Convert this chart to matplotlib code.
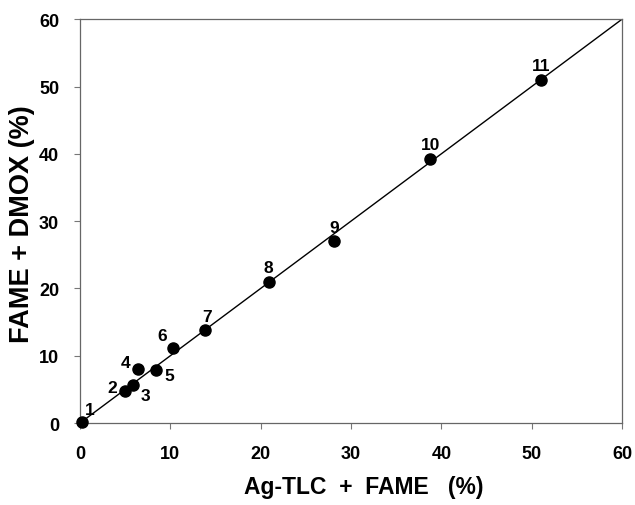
import matplotlib
matplotlib.use('Agg')
import matplotlib.pyplot as plt

plt.rcParams['font.family'] = ['Liberation Sans', 'DejaVu Sans']
plt.rcParams['font.weight'] = 'bold'

# values
x_vals = [0.2, 5.0, 5.9, 6.4, 8.4, 10.3, 13.8, 20.9, 28.1, 38.8, 51.0]
y_vals = [0.2, 4.7, 5.6, 8.0, 7.9, 11.2, 13.8, 21.0, 27.0, 39.3, 51.0]
point_ids = ['1', '2', '3', '4', '5', '6', '7', '8', '9', '10', '11']

# label offsets (points) relative to each marker
offsets = [(6, 9), (-9, 3), (9, -7), (-9, 5), (10, -4), (-8, 9),
           (2, 10), (0, 10), (0, 10), (0, 10), (0, 10)]

fig = plt.figure(figsize=(6.35, 5.06), dpi=100)
ax = fig.add_axes([0.126, 0.162, 0.8535, 0.798])

ax.plot([0, 60], [0, 60], color='black', lw=1.0, zorder=2)
ax.plot(x_vals, y_vals, 'o', color='black', ms=8, zorder=3, clip_on=False)

for xv, yv, lab, off in zip(x_vals, y_vals, point_ids, offsets):
    ax.annotate(lab, (xv, yv), xytext=off, textcoords='offset points',
                ha='center', va='center', fontsize=12.5, fontweight='bold')

ax.set_xlim(0, 60)
ax.set_ylim(0, 60)
ax.set_xticks(range(0, 61, 10))
ax.set_yticks(range(0, 61, 10))
ax.tick_params(direction='out', length=4, width=0.8, color='#777777',
               labelsize=13)
ax.tick_params(axis='x', pad=12)
ax.tick_params(axis='y', pad=11)
for lab in ax.get_xticklabels() + ax.get_yticklabels():
    lab.set_fontweight('bold')
for sp in ax.spines.values():
    sp.set_color('#666666')
    sp.set_linewidth(0.9)

ax.set_xlabel('Ag-TLC  +  FAME   (%)', fontsize=16.5, fontweight='bold', va='center')
ax.set_ylabel('FAME + DMOX (%)', fontsize=19.5, fontweight='bold', va='center')
ax.xaxis.set_label_coords(0.523, -0.156)
ax.yaxis.set_label_coords(-0.107, 0.496)

fig.savefig('out.png', dpi=100)
